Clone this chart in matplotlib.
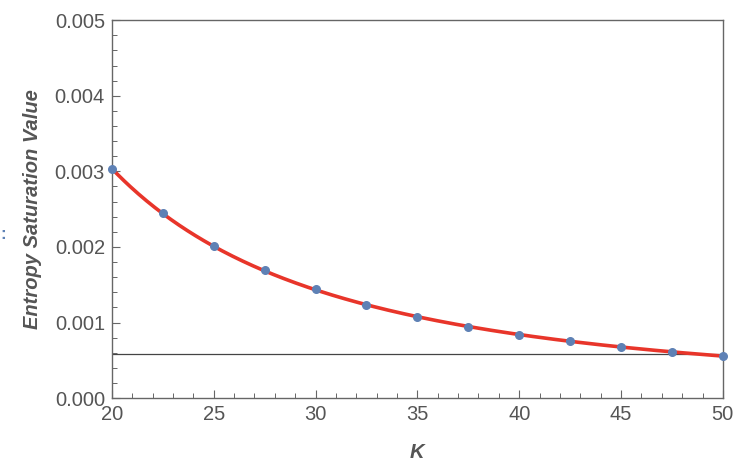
import matplotlib
matplotlib.use("Agg")
import matplotlib.pyplot as plt
from matplotlib.ticker import MultipleLocator
import numpy as np

# data
k_values = [20, 22.5, 25, 27.5, 30, 32.5, 35, 37.5, 40, 42.5, 45, 47.5, 50]
entropy_sat = [0.00303, 0.00245, 0.00201, 0.00169, 0.00144, 0.00123, 0.00107,
               0.00094, 0.00084, 0.00075, 0.00068, 0.00061, 0.00056]
threshold = 0.00058

# power-law fit in log-log space for the red curve
b, log_a = np.polyfit(np.log(k_values), np.log(entropy_sat), 1)
k_fine = np.linspace(20, 50, 300)
fit_curve = np.exp(log_a) * k_fine ** b

gray = '#555555'
plt.rcParams['font.family'] = ['Liberation Sans', 'DejaVu Sans']

fig = plt.figure(figsize=(7.46, 4.70), dpi=100)
ax = fig.add_axes([0.150, 0.153, 0.819, 0.804])

ax.axhline(threshold, color='#444444', lw=0.9, zorder=1)
ax.plot(k_fine, fit_curve, color='#E8352A', lw=2.6, zorder=2)
ax.scatter(k_values, entropy_sat, s=30, color='#5E81B5', zorder=3, clip_on=False)

ax.set_xlim(20, 50)
ax.set_ylim(0, 0.005)
ax.xaxis.set_major_locator(MultipleLocator(5))
ax.xaxis.set_minor_locator(MultipleLocator(1))
ax.yaxis.set_major_locator(MultipleLocator(0.001))
ax.yaxis.set_minor_locator(MultipleLocator(0.0002))
ax.yaxis.set_major_formatter(plt.FormatStrFormatter('%.3f'))

ax.tick_params(which='both', direction='in', top=False, right=False, color='#666666')
ax.tick_params(which='major', length=6, width=0.8, labelsize=14.5, labelcolor=gray, pad=5)
ax.tick_params(which='minor', length=3.5, width=0.7)
for s in ax.spines.values():
    s.set_color('#666666')
    s.set_linewidth(1.0)

ax.set_xlabel('K', fontsize=14.5, fontweight='bold', fontstyle='italic', color=gray, labelpad=14)
ax.set_ylabel('Entropy Saturation Value', fontsize=14.5, fontweight='bold',
              fontstyle='italic', color=gray, labelpad=9)

# cut-off fragment at the far left
fig.text(0.001, 0.492, ':', color='#5E81B5', fontsize=12, fontweight='bold')

fig.savefig('out.png', dpi=100)
